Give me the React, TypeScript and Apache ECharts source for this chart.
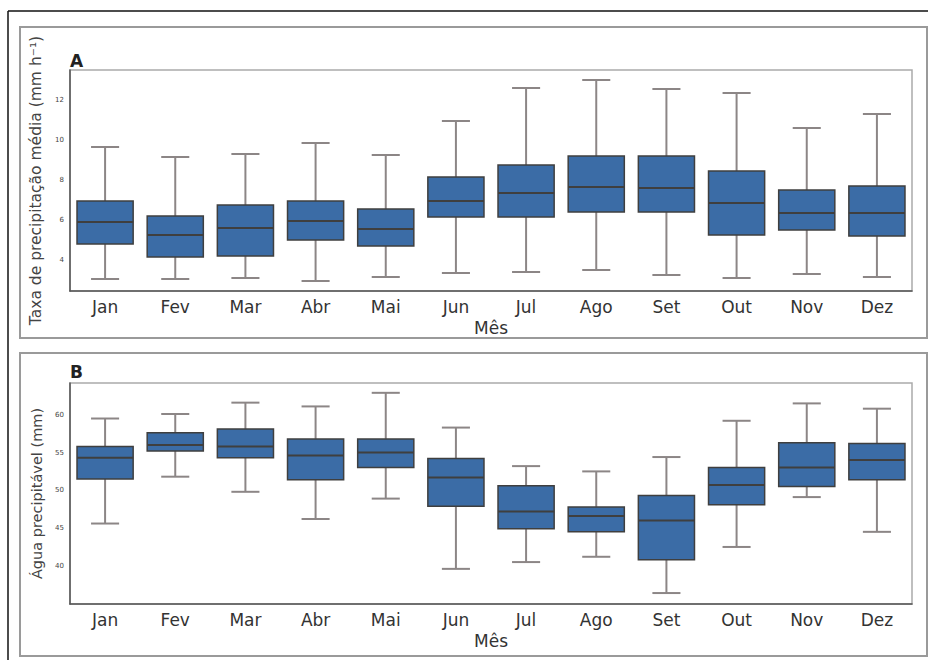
import React, { useEffect, useRef } from "react";
import * as echarts from "echarts";

const months = ["Jan", "Fev", "Mar", "Abr", "Mai", "Jun", "Jul", "Ago", "Set", "Out", "Nov", "Dez"];

// Panel A: Taxa de precipitação média (mm h-1)
const aLow = [3.05, 3.05, 3.1, 2.95, 3.15, 3.35, 3.4, 3.5, 3.25, 3.1, 3.3, 3.15];
const aQ1 = [4.8, 4.15, 4.2, 5.0, 4.7, 6.15, 6.15, 6.4, 6.4, 5.25, 5.5, 5.2];
const aMed = [5.9, 5.25, 5.6, 5.95, 5.55, 6.95, 7.35, 7.65, 7.6, 6.85, 6.35, 6.35];
const aQ3 = [6.95, 6.2, 6.75, 6.95, 6.55, 8.15, 8.75, 9.2, 9.2, 8.45, 7.5, 7.7];
const aHigh = [9.65, 9.15, 9.3, 9.85, 9.25, 10.95, 12.6, 13.0, 12.55, 12.35, 10.6, 11.3];
const aTicks = [4, 6, 8, 10, 12];

// Panel B: Água precipitável (mm)
const bLow = [45.6, 51.8, 49.8, 46.2, 48.9, 39.6, 40.5, 41.2, 36.4, 42.5, 49.1, 44.5];
const bQ1 = [51.5, 55.2, 54.3, 51.4, 53.0, 47.9, 44.9, 44.5, 40.8, 48.1, 50.5, 51.4];
const bMed = [54.3, 56.0, 55.8, 54.6, 55.0, 51.7, 47.2, 46.6, 46.0, 50.7, 53.0, 54.0];
const bQ3 = [55.8, 57.6, 58.1, 56.8, 56.8, 54.2, 50.6, 47.8, 49.3, 53.0, 56.3, 56.2];
const bHigh = [59.5, 60.1, 61.6, 61.1, 62.9, 58.3, 53.2, 52.5, 54.4, 59.2, 61.5, 60.8];
const bTicks = [40, 45, 50, 55, 60];

const FONT = "DejaVu Sans";
const BOX_FILL = "#3b6ca6";
const BOX_EDGE = "#3f3f3f";
const WHISKER = "#8c8686";

function buildData(low: number[], q1: number[], med: number[], q3: number[], high: number[]) {
  return months.map((_, i) => [i, low[i], q1[i], med[i], q3[i], high[i]]);
}

function renderBox(params: any, api: any) {
  const x = api.value(0);
  const pLow = api.coord([x, api.value(1)]);
  const pQ1 = api.coord([x, api.value(2)]);
  const pMed = api.coord([x, api.value(3)]);
  const pQ3 = api.coord([x, api.value(4)]);
  const pHigh = api.coord([x, api.value(5)]);
  const w = api.size([1, 0])[0] * 0.8;
  const cx = pMed[0];
  const cap = w / 2;
  const wStyle = { stroke: WHISKER, lineWidth: 2 };
  return {
    type: "group",
    children: [
      { type: "line", shape: { x1: cx, y1: pHigh[1], x2: cx, y2: pQ3[1] }, style: wStyle },
      { type: "line", shape: { x1: cx, y1: pQ1[1], x2: cx, y2: pLow[1] }, style: wStyle },
      { type: "line", shape: { x1: cx - cap / 2, y1: pHigh[1], x2: cx + cap / 2, y2: pHigh[1] }, style: wStyle },
      { type: "line", shape: { x1: cx - cap / 2, y1: pLow[1], x2: cx + cap / 2, y2: pLow[1] }, style: wStyle },
      {
        type: "rect",
        shape: { x: cx - w / 2, y: pQ3[1], width: w, height: pQ1[1] - pQ3[1] },
        style: { fill: BOX_FILL, stroke: BOX_EDGE, lineWidth: 1.5 },
      },
      { type: "line", shape: { x1: cx - w / 2, y1: pMed[1], x2: cx + w / 2, y2: pMed[1] }, style: { stroke: BOX_EDGE, lineWidth: 2 } },
    ],
  };
}

function xAxisCfg(gridIndex: number) {
  return {
    type: "category",
    gridIndex,
    data: months,
    boundaryGap: true,
    name: "Mês",
    nameLocation: "middle",
    nameGap: 28,
    nameTextStyle: { fontFamily: FONT, fontSize: 17, color: "#333" },
    axisLine: { show: true, lineStyle: { color: "#555", width: 1.5 } },
    axisTick: { show: false },
    axisLabel: { fontFamily: FONT, fontSize: 17, color: "#333", margin: 7 },
    splitLine: { show: false },
  };
}

function yAxisCfg(gridIndex: number, name: string, min: number, max: number, ticks: number[], fs: number) {
  return {
    type: "value",
    gridIndex,
    min,
    max,
    splitNumber: 5,
    name,
    nameLocation: "middle",
    nameGap: 23,
    nameTextStyle: { fontFamily: FONT, fontSize: fs, color: "#444" },
    axisLine: { show: true, lineStyle: { color: "#555", width: 1.5 } },
    axisTick: { show: false },
    axisLabel: {
      fontFamily: FONT,
      fontSize: 7,
      color: "#444",
      margin: 6,
      formatter: (v: number) => (ticks.indexOf(Math.round(v * 100) / 100) >= 0 ? String(v) : ""),
    },
    splitLine: { show: false },
  };
}

export default function App() {
  const ref = useRef<HTMLDivElement>(null);
  useEffect(() => {
    if (!ref.current) return;
    const chart = echarts.init(ref.current, undefined, { renderer: "svg" });
    chart.setOption({
      animation: false,
      backgroundColor: "#fff",
      grid: [
        { left: 70, top: 70, width: 842, height: 221, show: true, borderColor: "#aaa", borderWidth: 1.5 },
        { left: 70, top: 383, width: 842, height: 221, show: true, borderColor: "#aaa", borderWidth: 1.5 },
      ],
      xAxis: [xAxisCfg(0), xAxisCfg(1)],
      yAxis: [
        yAxisCfg(0, "Taxa de precipitação média (mm h⁻¹)", 2.45, 13.5, aTicks, 15.5),
        yAxisCfg(1, "Água precipitável (mm)", 34.95, 64.2, bTicks, 14.5),
      ],
      series: [
        {
          type: "custom",
          xAxisIndex: 0,
          yAxisIndex: 0,
          renderItem: renderBox,
          encode: { x: 0, y: [1, 2, 3, 4, 5] },
          data: buildData(aLow, aQ1, aMed, aQ3, aHigh),
        },
        {
          type: "custom",
          xAxisIndex: 1,
          yAxisIndex: 1,
          renderItem: renderBox,
          encode: { x: 0, y: [1, 2, 3, 4, 5] },
          data: buildData(bLow, bQ1, bMed, bQ3, bHigh),
        },
      ],
      graphic: [
        { type: "line", shape: { x1: 8, y1: 11, x2: 928, y2: 11 }, style: { stroke: "#111", lineWidth: 1.5 } },
        { type: "line", shape: { x1: 8, y1: 11, x2: 8, y2: 660 }, style: { stroke: "#111", lineWidth: 1.5 } },
        { type: "rect", shape: { x: 20, y: 27, width: 907, height: 311 }, style: { fill: "none", stroke: "#9a9a9a", lineWidth: 2 } },
        { type: "rect", shape: { x: 20, y: 353, width: 907, height: 303 }, style: { fill: "none", stroke: "#9a9a9a", lineWidth: 2 } },
        { type: "text", left: 70, top: 52, style: { text: "A", fontFamily: FONT, fontSize: 17, fontWeight: "bold", fill: "#222" } },
        { type: "text", left: 70, top: 363, style: { text: "B", fontFamily: FONT, fontSize: 17, fontWeight: "bold", fill: "#222" } },
      ],
    });
    return () => chart.dispose();
  }, []);
  return <div ref={ref} style={{ position: "fixed", left: 0, top: 0, width: 928, height: 660 }} />;
}
